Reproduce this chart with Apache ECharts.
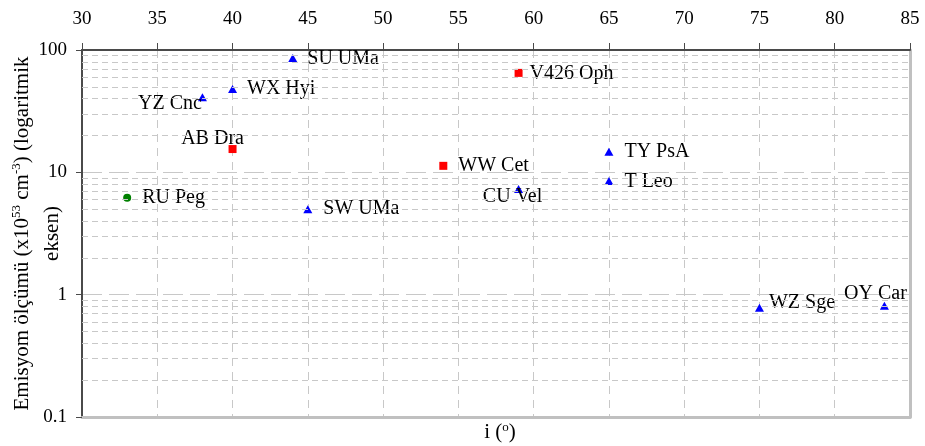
<!DOCTYPE html>
<html>
<head>
<meta charset="utf-8">
<script src="https://cdn.jsdelivr.net/npm/echarts@6/dist/echarts.min.js"></script>
<style>
html,body{margin:0;padding:0;background:#fff;}
#c{width:925px;height:446px;}
</style>
</head>
<body>
<div id="c"></div>
<script>
// ---- data ----
const xTicks = [30, 35, 40, 45, 50, 55, 60, 65, 70, 75, 80, 85];
const yTicks = [0.1, 1, 10, 100];

const triNames = ['SU UMa', 'WX Hyi', 'YZ Cnc', 'SW UMa', 'CU Vel', 'TY PsA', 'T Leo', 'WZ Sge', 'OY Car'];
const triX = [44, 40, 38, 45, 59, 65, 65, 75, 83.3];
const triY = [86, 48, 41, 5.0, 7.3, 14.7, 8.5, 0.78, 0.81];

const sqNames = ['V426 Oph', 'AB Dra', 'WW Cet'];
const sqX = [59, 40, 54];
const sqY = [65, 15.5, 11.3];

const circNames = ['RU Peg'];
const circX = [33];
const circY = [6.2];

// ---- label placement (style) ----
const labelStyle = {
  'SU UMa': {position: 'right', distance: 10, offset: [0, 1]},
  'WX Hyi': {position: 'right', distance: 10},
  'YZ Cnc': {position: 'left', distance: 0, offset: [4, 6]},
  'SW UMa': {position: 'right', distance: 11},
  'CU Vel': {position: 'inside', offset: [-6, 8]},
  'TY PsA': {position: 'right', distance: 11},
  'T Leo': {position: 'right', distance: 11, offset: [0, 1]},
  'WZ Sge': {position: 'right', distance: 5, offset: [0, -5]},
  'OY Car': {position: 'inside', offset: [-9, -12]},
  'V426 Oph': {position: 'right', distance: 7, offset: [0, 1]},
  'AB Dra': {position: 'top', distance: 2, offset: [-20, 6]},
  'WW Cet': {position: 'right', distance: 11},
  'RU Peg': {position: 'right', distance: 11}
};

const FONT = '"Liberation Serif", "Times New Roman", serif';
const GRID = '#c8c8c8';

function build(names, xs, ys) {
  return names.map((n, i) => ({
    name: n,
    value: [xs[i], ys[i]],
    label: Object.assign({show: true, formatter: n, color: '#000'}, labelStyle[n])
  }));
}

const minorVals = [];
[0.1, 1, 10].forEach(d => { for (let k = 2; k <= 9; k++) minorVals.push(+(k * d).toPrecision(3)); });

const labelCommon = {show: true, color: '#000', fontFamily: FONT, fontSize: 20, formatter: p => p.name};

const chart = echarts.init(document.getElementById('c'), null, {renderer: 'canvas'});
chart.setOption({
  animation: false,
  backgroundColor: '#fff',
  grid: {left: 82, right: 15, top: 50, bottom: 29, containLabel: false, outerBoundsMode: 'none'},
  xAxis: [{
    type: 'value', position: 'top', min: xTicks[0], max: xTicks[xTicks.length - 1], interval: 5,
    axisLine: {show: true, lineStyle: {color: '#4a4a4a', width: 2}},
    axisTick: {show: true, length: 7, lineStyle: {color: '#4a4a4a'}},
    axisLabel: {color: '#000', fontFamily: FONT, fontSize: 19, margin: 21},
    splitLine: {show: true, lineStyle: {color: GRID, type: [8, 6], width: 1}}
  }, {
    type: 'value', position: 'bottom', min: xTicks[0], max: xTicks[xTicks.length - 1], interval: 5,
    axisLine: {show: true, onZero: false, lineStyle: {color: '#c0c0c0', width: 3}},
    axisTick: {show: false}, axisLabel: {show: false}, splitLine: {show: false},
    name: '{a|i (}{s|o}{a|)}', nameLocation: 'middle', nameGap: 4, nameMoveOverlap: false,
    nameTextStyle: {
      padding: [0, 0, 0, 8],
      rich: {
        a: {fontFamily: FONT, fontSize: 21, color: '#000', lineHeight: 22},
        s: {fontFamily: FONT, fontSize: 13, color: '#000', verticalAlign: 'top', lineHeight: 12}
      }
    }
  }],
  yAxis: [{
    type: 'log', logBase: 10, min: yTicks[0], max: yTicks[yTicks.length - 1],
    axisLine: {show: true, lineStyle: {color: '#4a4a4a', width: 2}},
    axisTick: {show: true, length: 6, lineStyle: {color: '#4a4a4a'}},
    axisLabel: {color: '#000', fontFamily: FONT, fontSize: 19, margin: 15,
      formatter: v => String(+v.toPrecision(3))},
    splitLine: {show: true, lineStyle: {color: GRID, type: [20, 7], width: 1}},
    name: '{a|Emisyom ölçümü (x10}{s|53}{a| cm}{s|-3}{a|) (logaritmik}\n{a|eksen)}',
    nameLocation: 'middle', nameRotate: 90, nameGap: 15, nameMoveOverlap: false,
    nameTextStyle: {
      align: 'center',
      rich: {
        a: {fontFamily: FONT, fontSize: 21, color: '#000', lineHeight: 30},
        s: {fontFamily: FONT, fontSize: 13, color: '#000', verticalAlign: 'top', lineHeight: 12, padding: [3, 0, 0, 0]}
      }
    }
  }, {
    type: 'log', logBase: 10, min: yTicks[0], max: yTicks[yTicks.length - 1], position: 'right',
    axisLine: {show: true, lineStyle: {color: '#c0c0c0', width: 3}},
    axisTick: {show: false}, axisLabel: {show: false}, splitLine: {show: false}
  }],
  series: [{
    name: 'minor', type: 'scatter', data: [], xAxisIndex: 0, yAxisIndex: 0, silent: true,
    markLine: {
      silent: true, symbol: 'none', animation: false,
      label: {show: false},
      lineStyle: {color: GRID, type: [6, 4], width: 1},
      emphasis: {disabled: true},
      data: minorVals.map(v => ({yAxis: v}))
    }
  }, {
    name: 'tri', type: 'scatter', symbol: 'triangle', symbolSize: [9, 8],
    itemStyle: {color: '#0000ff', opacity: 1}, label: labelCommon,
    data: build(triNames, triX, triY)
  }, {
    name: 'sq', type: 'scatter', symbol: 'rect', symbolSize: 8,
    itemStyle: {color: '#ff0000', opacity: 1}, label: labelCommon,
    data: build(sqNames, sqX, sqY)
  }, {
    name: 'circ', type: 'scatter', symbol: 'circle', symbolSize: 8,
    itemStyle: {color: '#008000', opacity: 1}, label: labelCommon,
    data: build(circNames, circX, circY)
  }]
});
</script>
</body>
</html>
